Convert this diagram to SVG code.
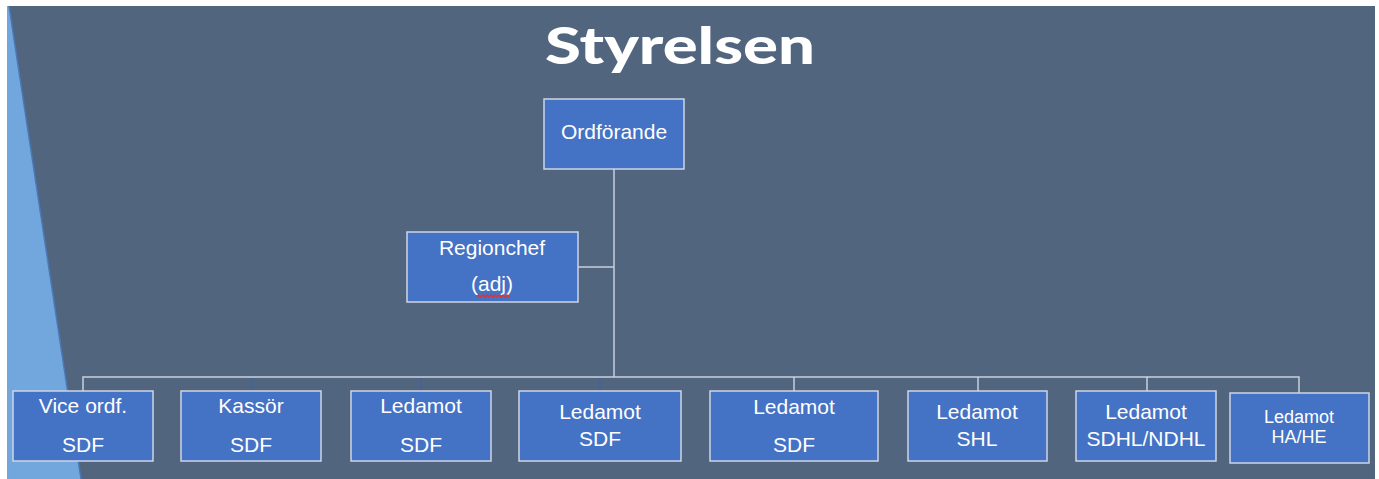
<svg xmlns="http://www.w3.org/2000/svg" width="1379" height="479" viewBox="0 0 1379 479">
<style>
.box{fill:#4472c4;stroke:#cdd5e6;stroke-width:1.5}
.t{font-family:"Liberation Sans",Arial,sans-serif;font-size:21px;fill:#ffffff;text-anchor:middle}
.ts{font-family:"Liberation Sans",Arial,sans-serif;font-size:18px;fill:#ffffff;text-anchor:middle}
.c{stroke:#c9cfdb;stroke-width:1.5;fill:none}
.cf{stroke:#3b62a8;stroke-width:1.2;fill:none}
</style>
<rect x="0" y="0" width="1379" height="479" fill="#ffffff"/>
<rect x="7" y="6" width="1368" height="473" fill="#52657f"/>
<polygon points="7,6 9,6 81,479 7,479" fill="#71a7dc"/>
<line x1="9" y1="6" x2="81" y2="479" stroke="#4a78b8" stroke-width="1.5"/>
<text x="680" y="64" font-family="Lato,'Open Sans',sans-serif" font-weight="900" font-size="51" fill="#ffffff" text-anchor="middle" textLength="270" lengthAdjust="spacingAndGlyphs">Styrelsen</text>
<g id="connectors">
<path class="c" d="M614,169 V377"/>
<path class="c" d="M578,267 H614"/>
<path class="c" d="M83,391 V377 H1147 V391"/>
<path class="c" d="M794,377 V391"/>
<path class="c" d="M978,377 V391"/>
<path class="c" d="M1147,377 H1299 V393"/>
<path class="cf" d="M252,378 V391"/>
<path class="cf" d="M421,378 V391"/>
<path class="cf" d="M600,378 V391"/>
</g>
<g id="ordforande">
<rect class="box" x="544" y="99" width="140" height="70"/>
<text class="t" x="614" y="139">Ordförande</text>
</g>
<g id="regionchef">
<rect class="box" x="407" y="232" width="171" height="70"/>
<text class="t" x="492" y="255">Regionchef</text>
<text class="t" x="492" y="291">(adj)</text>
<path d="M477,297 l2,-2 l2,2 l2,-2 l2,2 l2,-2 l2,2 l2,-2 l2,2 l2,-2 l2,2 l2,-2 l2,2 l2,-2 l2,2 l2,-2 l2,2" stroke="#e8302a" stroke-width="1.3" fill="none"/>
</g>
<g id="vice">
<rect class="box" x="13" y="391" width="140" height="70"/>
<text class="t" x="83" y="413">Vice ordf.</text>
<text class="t" x="83" y="452">SDF</text>
</g>
<g id="kassor">
<rect class="box" x="181" y="391" width="140" height="70"/>
<text class="t" x="251" y="413">Kassör</text>
<text class="t" x="251" y="452">SDF</text>
</g>
<g id="ledamot1">
<rect class="box" x="351" y="391" width="140" height="70"/>
<text class="t" x="421" y="413">Ledamot</text>
<text class="t" x="421" y="452">SDF</text>
</g>
<g id="ledamot2">
<rect class="box" x="519" y="391" width="162" height="70"/>
<text class="t" x="600" y="419">Ledamot</text>
<text class="t" x="600" y="446">SDF</text>
</g>
<g id="ledamot3">
<rect class="box" x="710" y="391" width="168" height="70"/>
<text class="t" x="794" y="414">Ledamot</text>
<text class="t" x="794" y="452">SDF</text>
</g>
<g id="ledamot4">
<rect class="box" x="908" y="391" width="139" height="70"/>
<text class="t" x="977" y="419">Ledamot</text>
<text class="t" x="977" y="446">SHL</text>
</g>
<g id="ledamot5">
<rect class="box" x="1076" y="391" width="140" height="70"/>
<text class="t" x="1146" y="419">Ledamot</text>
<text class="t" x="1146" y="446">SDHL/NDHL</text>
</g>
<g id="ledamot6">
<rect class="box" x="1230" y="393" width="139" height="70"/>
<text class="ts" x="1299" y="423">Ledamot</text>
<text class="ts" x="1299" y="443">HA/HE</text>
</g>
</svg>
